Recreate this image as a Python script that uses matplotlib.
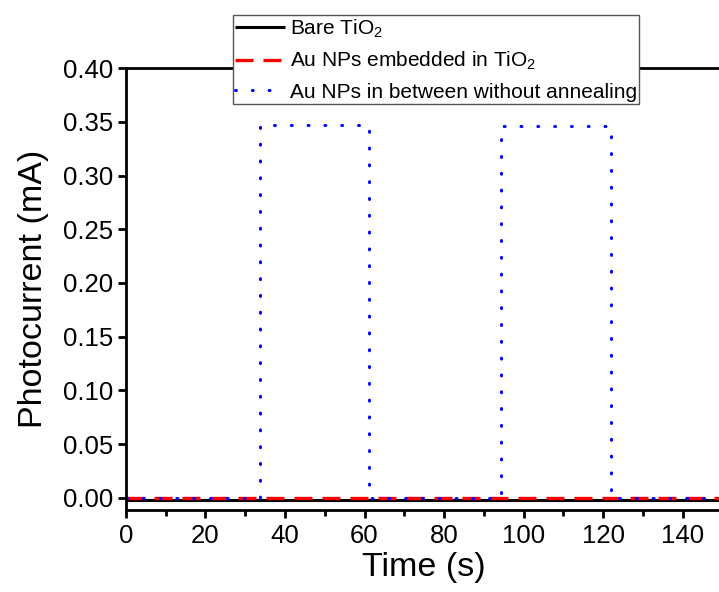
import matplotlib
matplotlib.use("Agg")
import matplotlib.pyplot as plt
from matplotlib.ticker import MultipleLocator, FormatStrFormatter

plt.rcParams['font.family'] = ['Liberation Sans', 'DejaVu Sans']
plt.rcParams['mathtext.fontset'] = 'custom'
plt.rcParams['mathtext.rm'] = 'Liberation Sans'
plt.rcParams['mathtext.it'] = 'Liberation Sans'

# Data
bare_t = [0, 150]
bare_i = [-0.002, -0.002]
embedded_t = [0, 150]
embedded_i = [-0.0003, -0.0003]
between_t = [0, 33.6, 33.6, 61.0, 61.0, 94.4, 94.4, 122.0, 122.0, 150]
between_i = [0, 0, 0.347, 0.347, 0, 0, 0.346, 0.346, 0, 0]

labels = ['Bare TiO$_2$', 'Au NPs embedded in TiO$_2$', 'Au NPs in between without annealing']

fig = plt.figure(figsize=(7.19, 5.92), dpi=100)
ax = fig.add_axes([0.175, 0.1385, 0.83, 0.7465])

ax.plot(bare_t, bare_i, color='black', lw=2.2, solid_capstyle='butt', label=labels[0])
ax.plot(embedded_t, embedded_i, color='red', lw=2.4, ls=(0, (5.4, 3.0)), label=labels[1])
ax.plot(between_t, between_i, color='blue', lw=2.2, ls=(0, (0.3, 5.2)), dash_capstyle='round', label=labels[2])

ax.set_xlim(0, 150)
ax.set_ylim(-0.0113, 0.40)
ax.xaxis.set_major_locator(MultipleLocator(20))
ax.xaxis.set_minor_locator(MultipleLocator(10))
ax.yaxis.set_major_locator(MultipleLocator(0.05))
ax.yaxis.set_major_formatter(FormatStrFormatter('%.2f'))

for s in ['left', 'bottom', 'top']:
    ax.spines[s].set_linewidth(2.0)
ax.spines['right'].set_visible(False)
ax.tick_params(axis='both', which='major', direction='out', length=6, width=2, labelsize=18.5, pad=3)
ax.tick_params(axis='x', which='major', pad=4)
ax.tick_params(axis='x', which='minor', direction='out', length=4.5, width=2)
ax.tick_params(top=False, right=False)

ax.set_xlabel('Time (s)', fontsize=24.5, labelpad=3)
ax.set_ylabel('Photocurrent (mA)', fontsize=24.5, labelpad=10)

leg = ax.legend(loc='upper left', bbox_to_anchor=(0.324, 0.975), bbox_transform=fig.transFigure,
                borderaxespad=0, borderpad=0.12, fontsize=15, handlelength=2.4, handletextpad=0.2,
                labelspacing=0.5, fancybox=False, framealpha=1, edgecolor='#555555')
leg.get_frame().set_linewidth(1.0)
leg.set_zorder(5)

fig.savefig('out.png', dpi=100)
